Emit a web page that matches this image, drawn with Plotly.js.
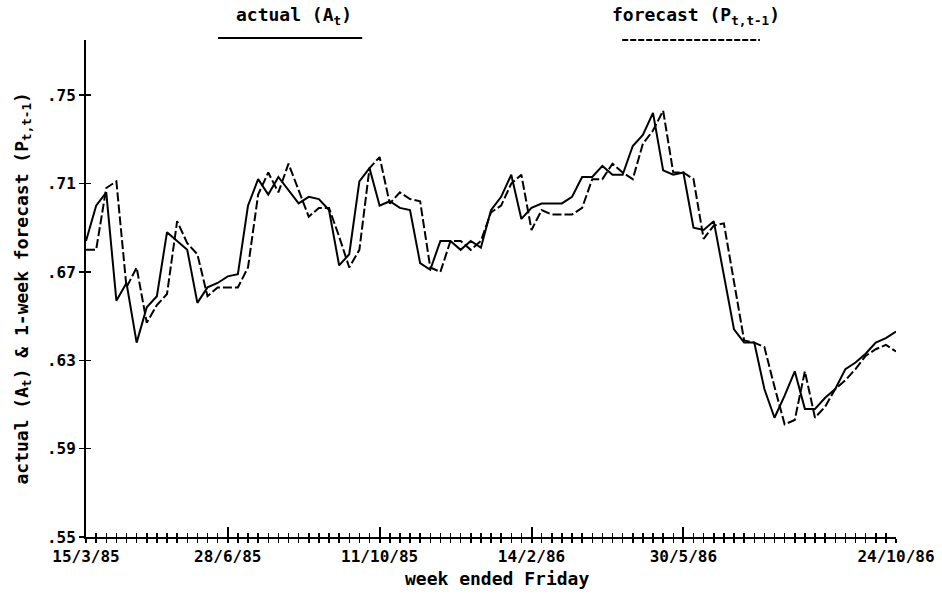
<!DOCTYPE html>
<html>
<head>
<meta charset="utf-8">
<script src="https://cdn.plot.ly/plotly-3.0.1.min.js"></script>
<style>html,body{margin:0;padding:0;background:#fff;}#chart{width:942px;height:600px;}</style>
</head>
<body>
<div id="chart"></div>
<script>
// Weekly series (one point per plotted week)
const actual = [
  0.684, 0.700, 0.706, 0.657, 0.665, 0.638, 0.654, 0.659, 0.688, 0.684,
  0.680, 0.656, 0.663, 0.665, 0.668, 0.669, 0.700, 0.712, 0.705, 0.713,
  0.707, 0.701, 0.704, 0.703, 0.698, 0.673, 0.678, 0.711, 0.717, 0.700,
  0.702, 0.699, 0.698, 0.674, 0.671, 0.684, 0.684, 0.680, 0.684, 0.681,
  0.698, 0.704, 0.714, 0.694, 0.699, 0.701, 0.701, 0.701, 0.704, 0.713,
  0.713, 0.718, 0.714, 0.714, 0.727, 0.732, 0.742, 0.716, 0.714, 0.715,
  0.690, 0.689, 0.693, 0.669, 0.644, 0.638, 0.638, 0.617, 0.604, 0.614,
  0.625, 0.608, 0.608, 0.613, 0.617, 0.626, 0.629, 0.633, 0.638, 0.640,
  0.643
];
const forecast = [
  0.680, 0.680, 0.708, 0.711, 0.663, 0.672, 0.647, 0.655, 0.660, 0.693,
  0.683, 0.678, 0.659, 0.663, 0.663, 0.663, 0.672, 0.705, 0.715, 0.706,
  0.719, 0.707, 0.695, 0.699, 0.699, 0.686, 0.672, 0.680, 0.717, 0.722,
  0.701, 0.706, 0.703, 0.702, 0.672, 0.670, 0.684, 0.684, 0.680, 0.684,
  0.697, 0.700, 0.710, 0.714, 0.689, 0.698, 0.696, 0.696, 0.696, 0.699,
  0.712, 0.712, 0.719, 0.715, 0.712, 0.728, 0.734, 0.743, 0.715, 0.715,
  0.712, 0.685, 0.691, 0.692, 0.666, 0.639, 0.638, 0.636, 0.618, 0.601,
  0.603, 0.625, 0.604, 0.609, 0.617, 0.621, 0.626, 0.632, 0.635, 0.637,
  0.634
];
// Labelled weeks (week ended Friday) and their index in the series
const weekLabels = ['15/3/85', '28/6/85', '11/10/85', '14/2/86', '30/5/86', '24/10/86'];
const weekLabelIdx = [0, 14, 29, 44, 59, 80];
// Y tick values and labels
const yTickVals = [0.55, 0.59, 0.63, 0.67, 0.71, 0.75];
const yTickText = ['.55', '.59', '.63', '.67', '.71', '.75'];

const weeks = actual.map((_, i) => i);
const FONT = 'DejaVu Sans Mono';
const xRange = [0, actual.length - 1];
const yRange = [0.55, 0.775];

const traces = [
  {x: weeks, y: actual, type: 'scatter', mode: 'lines', name: 'actual',
   line: {color: '#000', width: 2}, hoverinfo: 'skip'},
  {x: weeks, y: forecast, type: 'scatter', mode: 'lines', name: 'forecast',
   line: {color: '#000', width: 2, dash: '9px,3px'}, hoverinfo: 'skip'},
  {x: [weeks[0]], y: [actual[0]], xaxis: 'x2', yaxis: 'y2', type: 'scatter', mode: 'lines',
   line: {color: 'rgba(0,0,0,0)'}, hoverinfo: 'skip', showlegend: false}
];

const layout = {
  width: 942, height: 600,
  margin: {l: 86, r: 46, t: 40, b: 63},
  paper_bgcolor: '#fff', plot_bgcolor: '#fff',
  showlegend: false,
  font: {family: FONT, color: '#000', size: 16},
  xaxis: {
    range: xRange, showgrid: false, zeroline: false,
    showline: true, linecolor: '#000', linewidth: 2,
    tickmode: 'array', tickvals: weekLabelIdx, ticktext: weekLabels,
    ticks: 'outside', ticklen: 4, tickwidth: 2, tickcolor: '#000',
    tickfont: {family: FONT, size: 16, color: '#000', weight: 'bold'},
    minor: {dtick: 1, tick0: 0, ticks: 'outside', ticklen: 4, tickwidth: 1.5, tickcolor: '#000'}
  },
  xaxis2: {
    overlaying: 'x', anchor: 'y2', range: xRange, showgrid: false, zeroline: false,
    showline: false, showticklabels: false,
    tickmode: 'array', tickvals: weekLabelIdx,
    ticks: 'inside', ticklen: 10, tickwidth: 2, tickcolor: '#000',
    minor: {dtick: 1, tick0: 0, ticks: 'inside', ticklen: 4, tickwidth: 1.5, tickcolor: '#000'}
  },
  yaxis: {
    range: yRange, showgrid: false, zeroline: false,
    showline: true, linecolor: '#000', linewidth: 2,
    tickmode: 'array', tickvals: yTickVals, ticktext: yTickText,
    ticks: 'outside', ticklen: 5, tickwidth: 1.5, tickcolor: '#000',
    tickfont: {family: FONT, size: 16, color: '#000', weight: 'bold'}
  },
  yaxis2: {
    overlaying: 'y', anchor: 'x2', side: 'left', range: yRange, showgrid: false, zeroline: false,
    showline: false, showticklabels: false,
    tickmode: 'array', tickvals: yTickVals,
    ticks: 'inside', ticklen: 5, tickwidth: 1.5, tickcolor: '#000'
  },
  annotations: [
    {text: 'actual (A<sub>t</sub>)', xref: 'paper', yref: 'paper', x: 0.257, y: 1.048,
     showarrow: false, xanchor: 'center', yanchor: 'middle',
     font: {family: FONT, size: 18, color: '#000', weight: 'bold'}},
    {text: 'forecast (P<sub>t,t-1</sub>)', xref: 'paper', yref: 'paper', x: 0.753, y: 1.048,
     showarrow: false, xanchor: 'center', yanchor: 'middle',
     font: {family: FONT, size: 18, color: '#000', weight: 'bold'}},
    {text: 'week ended Friday', xref: 'paper', yref: 'paper', x: 0.507, y: -0.083,
     showarrow: false, xanchor: 'center', yanchor: 'middle',
     font: {family: FONT, size: 18, color: '#000', weight: 'bold'}},
    {text: 'actual (A<sub>t</sub>) &amp; 1-week forecast (P<sub>t,t-1</sub>)', xref: 'paper', yref: 'paper',
     x: -0.079, y: 0.5, textangle: -90,
     showarrow: false, xanchor: 'center', yanchor: 'middle',
     font: {family: FONT, size: 18, color: '#000', weight: 'bold'}}
  ],
  shapes: [
    {type: 'line', xref: 'paper', yref: 'paper', x0: 0.163, x1: 0.341, y0: 1.004, y1: 1.004,
     line: {color: '#000', width: 2}},
    {type: 'line', xref: 'paper', yref: 'paper', x0: 0.662, x1: 0.832, y0: 1.0, y1: 1.0,
     line: {color: '#000', width: 2, dash: '6px,2px'}}
  ]
};

Plotly.newPlot('chart', traces, layout, {staticPlot: true, displayModeBar: false});
</script>
</body>
</html>
